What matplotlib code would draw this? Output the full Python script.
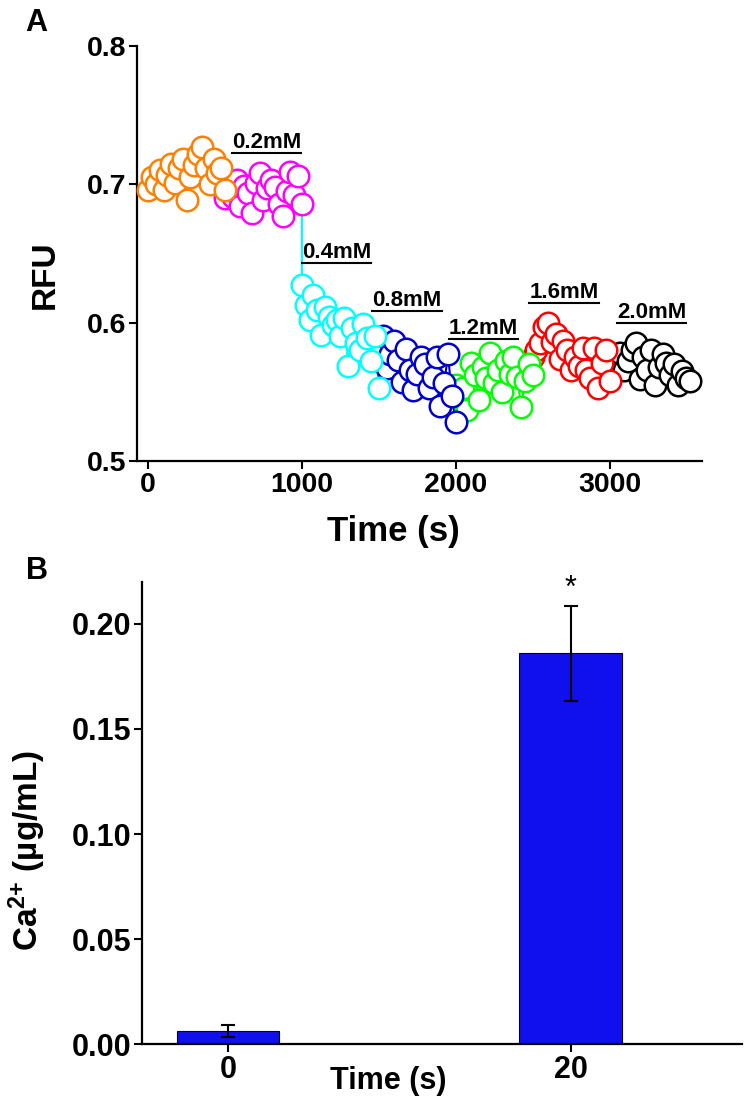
import matplotlib
matplotlib.use('Agg')
import matplotlib.pyplot as plt

plt.rcParams['font.family'] = ['Liberation Sans', 'DejaVu Sans']
plt.rcParams['font.weight'] = 'bold'
plt.rcParams['mathtext.fontset'] = 'custom'
plt.rcParams['mathtext.rm'] = 'Liberation Sans:bold'
plt.rcParams['mathtext.bf'] = 'Liberation Sans:bold'
plt.rcParams['mathtext.default'] = 'rm'

# ---- panel A: RFU trace, one segment per Ca concentration ----
offsets = [0, 25, 50, 75, 100, 125, 150, 175, 200, 225, 250,
           275, 300, 325, 350, 375, 400, 425, 450, 475, 500]
seg_start = [0, 500, 1000, 1500, 2000, 2500, 3020]

orange = [0.696, 0.705, 0.700, 0.710, 0.696, 0.707, 0.715, 0.701, 0.712, 0.718, 0.689,
          0.705, 0.714, 0.722, 0.727, 0.712, 0.700, 0.718, 0.708, 0.712, 0.696]
magenta = [0.690, 0.697, 0.691, 0.703, 0.684, 0.699, 0.694, 0.679, 0.701, 0.708, 0.689,
           0.697, 0.703, 0.698, 0.686, 0.677, 0.695, 0.709, 0.692, 0.706, 0.686]
cyan = [0.627, 0.613, 0.602, 0.620, 0.609, 0.591, 0.611, 0.604, 0.598, 0.602, 0.590,
        0.603, 0.569, 0.596, 0.585, 0.580, 0.599, 0.589, 0.572, 0.590, 0.553]
blue = [0.578, 0.590, 0.567, 0.577, 0.587, 0.573, 0.557, 0.581, 0.566, 0.551, 0.563,
        0.575, 0.570, 0.553, 0.561, 0.575, 0.540, 0.556, 0.577, 0.547, 0.528]
green = [0.555, 0.548, 0.553, 0.537, 0.571, 0.562, 0.544, 0.568, 0.560, 0.578, 0.556,
         0.566, 0.550, 0.572, 0.563, 0.575, 0.561, 0.539, 0.558, 0.570, 0.562]
red = [0.575, 0.580, 0.585, 0.597, 0.600, 0.586, 0.592, 0.574, 0.587, 0.580, 0.566,
       0.575, 0.569, 0.582, 0.566, 0.560, 0.582, 0.553, 0.571, 0.580, 0.558]
black = [0.568, 0.573, 0.578, 0.566, 0.572, 0.580, 0.585, 0.559, 0.575, 0.566, 0.580,
         0.555, 0.568, 0.577, 0.571, 0.562, 0.570, 0.555, 0.565, 0.560, 0.558]

segments = [orange, magenta, cyan, blue, green, red, black]
seg_colors = ['#FF8000', '#FF00FF', '#00FFFF', '#0000CC', '#00FF00', '#FF0000', '#000000']

conc_labels = ['0.2mM', '0.4mM', '0.8mM', '1.2mM', '1.6mM', '2.0mM']
label_x = [770, 1226, 1683, 2182, 2704, 3275]
label_y = [0.7226, 0.643, 0.6084, 0.5881, 0.614, 0.5997]

# ---- panel B: Ca2+ released ----
b_times = ['0', '20']
ca_mean = [0.0063, 0.186]
ca_err = [0.003, 0.0225]

fig = plt.figure(figsize=(7.49, 11.02), dpi=100)
ax_a = fig.add_axes([0.183, 0.5817, 0.754, 0.3766])
ax_b = fig.add_axes([0.190, 0.0526, 0.801, 0.4193])

prev_t, prev_v = None, None
for k, (vals, col) in enumerate(zip(segments, seg_colors)):
    ts = [seg_start[k] + o for o in offsets]
    lx, ly = list(ts), list(vals)
    if prev_t is not None:
        lx = [prev_t] + lx
        ly = [prev_v] + ly
    ax_a.plot(lx, ly, color=col, lw=1.5, zorder=1)
    ax_a.plot(ts, vals, 'o', ms=15.5, mfc='white', mec=col, mew=1.8,
              zorder=20 - k, clip_on=False)
    prev_t, prev_v = ts[-1], vals[-1]

ax_a.set_xlim(-72, 3600)
ax_a.set_ylim(0.5, 0.8)
ax_a.set_xticks([0, 1000, 2000, 3000])
ax_a.set_yticks([0.5, 0.6, 0.7, 0.8])
ax_a.set_xlabel('Time (s)', fontsize=25, fontweight='bold')
ax_a.set_ylabel('RFU', fontsize=24, fontweight='bold')
ax_a.xaxis.set_label_coords(0.453, -0.13)
ax_a.yaxis.set_label_coords(-0.135, 0.45)

texts = []
for lab, x, y in zip(conc_labels, label_x, label_y):
    texts.append(ax_a.text(x, y, lab, ha='center', va='bottom', fontsize=16,
                           fontweight='bold', zorder=30))

ax_b.bar([0, 1], ca_mean, width=0.3, color='#1010EE', edgecolor='black', lw=0.8,
         yerr=ca_err, error_kw=dict(ecolor='black', elinewidth=1.5, capsize=5, capthick=1.5))
ax_b.text(1, ca_mean[1] + ca_err[1] + 0.001, '*', ha='center', va='bottom',
          fontsize=22, fontweight='normal')
ax_b.set_xlim(-0.25, 1.5)
ax_b.set_ylim(0, 0.22)
ax_b.set_xticks([0, 1])
ax_b.set_xticklabels(b_times)
ax_b.set_yticks([0.0, 0.05, 0.10, 0.15, 0.20])
ax_b.set_yticklabels(['0.00', '0.05', '0.10', '0.15', '0.20'])
ax_b.set_xlabel('Time (s)', fontsize=22, fontweight='bold')
ax_b.set_ylabel(r'Ca$^{2{+}}$ (µg/mL)', fontsize=24, fontweight='bold')
ax_b.xaxis.set_label_coords(0.41, -0.047)
ax_b.yaxis.set_label_coords(-0.157, 0.42)

for ax, fs in [(ax_a, 20.5), (ax_b, 22)]:
    ax.spines['top'].set_visible(False)
    ax.spines['right'].set_visible(False)
    ax.spines['left'].set_linewidth(1.6)
    ax.spines['bottom'].set_linewidth(1.6)
    ax.tick_params(direction='out', length=6, width=1.5, labelsize=fs, pad=2)
    for lbl in ax.get_xticklabels() + ax.get_yticklabels():
        lbl.set_fontweight('bold')

fig.text(0.049, 0.979, 'A', fontsize=22, fontweight='bold', ha='center', va='center')
fig.text(0.049, 0.482, 'B', fontsize=22, fontweight='bold', ha='center', va='center')

# underline the concentration labels
fig.canvas.draw()
rend = fig.canvas.get_renderer()
inv = ax_a.transData.inverted()
for t in texts:
    bb = t.get_window_extent(rend)
    (x0, y0), (x1, _) = inv.transform([(bb.x0, bb.y0), (bb.x1, bb.y0)])
    ax_a.plot([x0, x1], [y0, y0], color='black', lw=1.5, zorder=30, clip_on=False)

fig.savefig('out.png', dpi=100)
